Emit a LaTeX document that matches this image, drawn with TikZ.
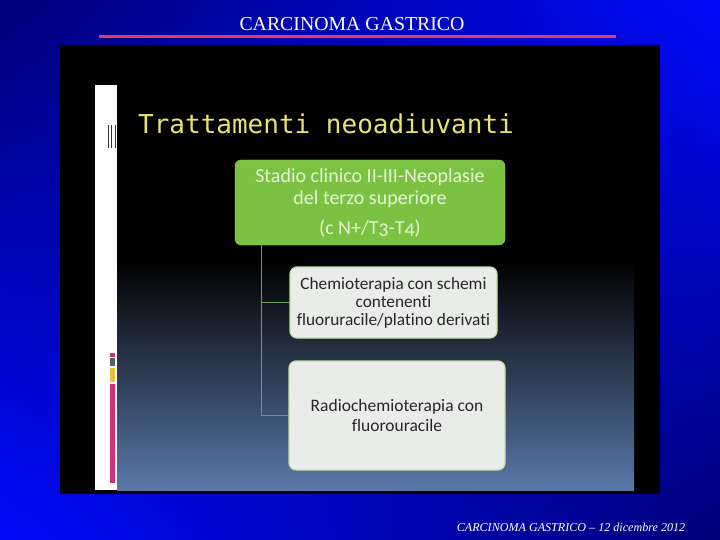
\documentclass[tikz,border=0pt]{standalone}
\usepackage{fontspec}
\setmainfont{Liberation Serif}
\newfontfamily\boxfont[Ligatures=NoCommon]{Carlito}
\newfontfamily\monofont{DejaVu Sans Mono}
\usetikzlibrary{positioning,shadings}

\definecolor{bgdark}{RGB}{0,0,120}
\definecolor{bgbright}{RGB}{0,10,250}
\definecolor{redline}{RGB}{225,60,90}
\definecolor{slidemid}{RGB}{16,20,32}
\definecolor{slidebot}{RGB}{90,120,168}
\definecolor{titleyellow}{RGB}{232,226,110}
\definecolor{stagegreen}{RGB}{124,194,66}
\definecolor{stagetext}{RGB}{232,244,216}
\definecolor{optfill}{RGB}{234,236,234}
\definecolor{optborder}{RGB}{190,226,160}
\definecolor{treeline}{RGB}{110,160,80}
\definecolor{barpink}{RGB}{205,50,120}
\definecolor{bargray}{RGB}{80,100,100}
\definecolor{baryellow}{RGB}{235,190,60}

\tikzset{
  stagebox/.style={rectangle,rounded corners=6pt,fill=stagegreen,draw=stagegreen!80!white,
    text=stagetext,font=\boxfont\fontsize{20}{22}\selectfont,align=center},
  optbox/.style={rectangle,rounded corners=7pt,fill=optfill,draw=optborder,line width=1.2pt,
    text=black!85,align=center},
  branch/.style={draw=treeline,line width=0.8pt}
}

\begin{document}
\begin{tikzpicture}[x=1pt,y=-1pt]
\useasboundingbox (0,0) rectangle (720,540);
% background
\shade[upper left=bgdark,upper right=bgbright,lower left=bgbright,lower right=bgdark] (0,0) rectangle (720,540);
\node (head) at (352,24) [text=white,font=\fontsize{19.8}{21}\selectfont] {CARCINOMA GASTRICO};
\draw[redline,line width=3pt] (99,37) -- (616,37);
\node (foot) at (571,527) [text=white,font=\itshape\fontsize{12.1}{14}\selectfont] {CARCINOMA GASTRICO -- 12 dicembre 2012};

% slide
\fill[black] (60,45) rectangle (660,494);
\shade[top color=black,middle color=slidemid,bottom color=slidebot] (117,260) rectangle (634,490);
\fill[white] (95,85) rectangle (117,490);
\draw[black!80,line width=0.8pt] (108.5,125) -- (108.5,148);
\draw[black!80,line width=0.8pt] (111.5,125) -- (111.5,148);
\draw[black!80,line width=0.8pt] (115,125) -- (115,148);
\fill[barpink] (110,352.5) rectangle (114.5,356.5);
\fill[bargray] (110,357.5) rectangle (114.5,366);
\fill[baryellow] (110,368) rectangle (114.5,381.5);
\fill[barpink] (110,383.5) rectangle (114.5,482.5);

\node (title) at (326,124) [text=titleyellow,font=\monofont\fontsize{26}{28}\selectfont] {Trattamenti neoadiuvanti};

\node (stadio) at (370,202.5) [stagebox,minimum width=270pt,minimum height=85pt]
  {Stadio clinico II-III-Neoplasie\\del terzo superiore\\[8pt]{\addfontfeature{Numbers=OldStyle}(c N+/T3-T4)}};
\node (chemio) at (393.5,302.5) [optbox,minimum width=207pt,minimum height=71pt,font=\boxfont\fontsize{17.3}{18}\selectfont]
  {Chemioterapia con schemi\\contenenti\\fluoruracile/platino derivati};
\node (radio) at (397,415.5) [optbox,minimum width=216pt,minimum height=109pt,font=\boxfont\fontsize{17.5}{19.5}\selectfont]
  {Radiochemioterapia con\\fluorouracile};

\coordinate (trunk) at ([xshift=27pt]stadio.south west);
\draw[branch] (trunk) |- (chemio.west);
\draw[branch] (trunk) |- (radio.west);
\end{tikzpicture}
\end{document}
